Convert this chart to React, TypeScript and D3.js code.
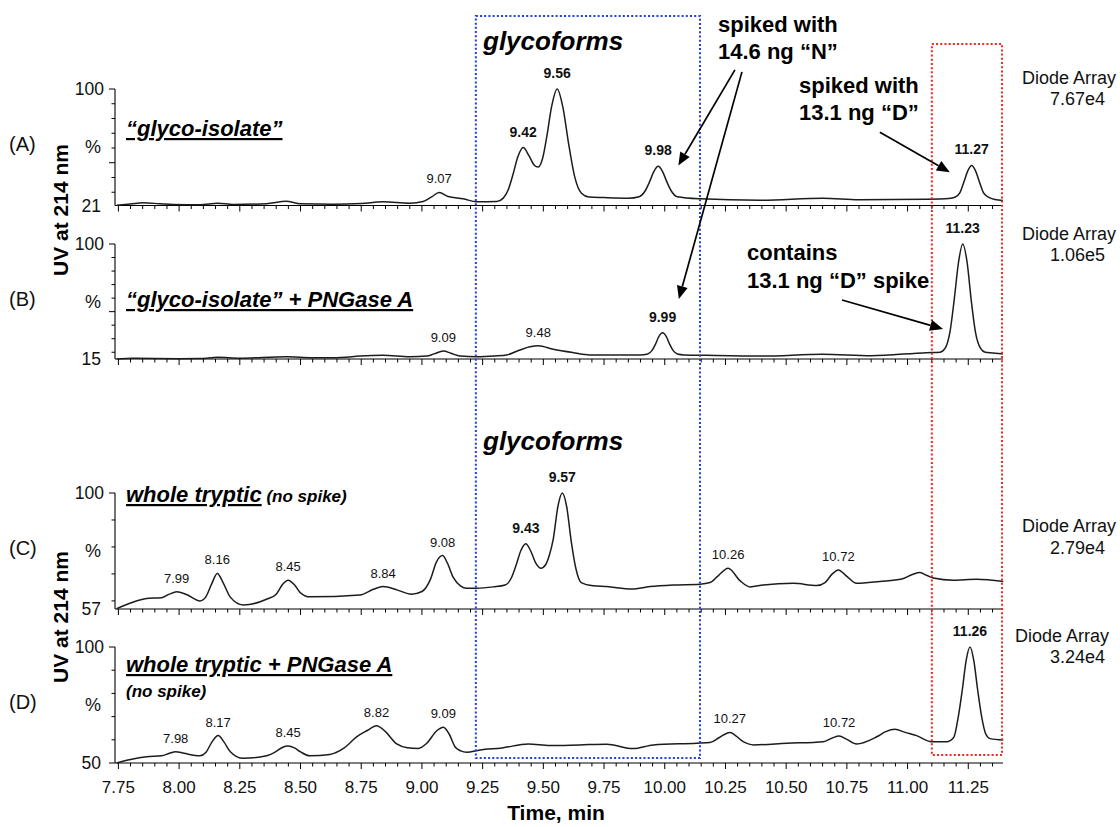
import React from 'react';
import * as d3 from 'd3';

type Pt = [number, number];

// ---------- chromatogram traces: [time (min), relative intensity %] ----------
const traceA: Pt[] = [
  [7.743, 21.2], [7.80, 22.0], [7.852, 22.8], [7.92, 22.2], [7.975, 21.7], [8.086, 21.5], [8.16, 22.6],
  [8.222, 21.7], [8.36, 22.2], [8.44, 23.9], [8.50, 22.2], [8.634, 21.9], [8.75, 22.3], [8.84, 23.5],
  [8.95, 22.6], [9.005, 23.7], [9.04, 26.8], [9.071, 29.9], [9.108, 27.1], [9.17, 25.6], [9.225, 23.5],
  [9.308, 23.7], [9.335, 26.0], [9.355, 31.5], [9.375, 42.0], [9.395, 54.0], [9.417, 60.3], [9.440, 55.0],
  [9.462, 48.5], [9.479, 47.1], [9.497, 53.0], [9.514, 67.5], [9.534, 88.0], [9.557, 100], [9.580, 88.0],
  [9.605, 62.0], [9.629, 40.6], [9.657, 29.3], [9.687, 26.8], [9.75, 26.4], [9.85, 26.0], [9.895, 27.0],
  [9.917, 30.3], [9.936, 36.5], [9.955, 44.0], [9.973, 47.6], [9.991, 44.0], [10.01, 36.5], [10.029, 30.3],
  [10.051, 27.0], [10.145, 25.6], [10.392, 24.6], [10.652, 26.0], [10.80, 24.9], [11.079, 25.3],
  [11.17, 25.8], [11.195, 26.6], [11.215, 29.5], [11.232, 37.0], [11.248, 44.5], [11.264, 48.2],
  [11.280, 44.5], [11.296, 37.0], [11.313, 29.5], [11.333, 26.6], [11.36, 25.0], [11.393, 24.4],
];

const traceB: Pt[] = [
  [7.743, 15.0], [7.81, 15.5], [8.0, 15.2], [8.086, 15.3], [8.16, 16.3], [8.25, 15.6], [8.44, 16.7],
  [8.55, 16.0], [8.634, 16.0], [8.77, 17.4], [8.84, 17.7], [8.95, 16.7], [9.02, 17.2], [9.05, 18.8],
  [9.088, 20.9], [9.12, 19.2], [9.157, 17.2], [9.225, 16.6], [9.30, 17.2], [9.349, 18.0], [9.404, 21.7],
  [9.445, 24.0], [9.479, 24.8], [9.541, 22.2], [9.623, 19.7], [9.692, 18.0], [9.898, 18.0], [9.930, 18.7],
  [9.947, 21.2], [9.962, 26.0], [9.976, 31.7], [9.991, 34.4], [10.006, 31.7], [10.02, 26.0], [10.035, 21.2],
  [10.052, 18.7], [10.08, 18.0], [10.173, 17.7], [10.40, 17.2], [10.65, 18.5], [10.85, 17.4], [11.079, 19.7],
  [11.134, 20.0], [11.155, 23.0], [11.175, 35.4], [11.192, 58.7], [11.210, 86.7], [11.227, 100],
  [11.245, 86.7], [11.262, 58.7], [11.279, 35.4], [11.300, 23.0], [11.32, 20.0], [11.35, 19.5], [11.393, 18.7],
];

const traceC: Pt[] = [
  [7.743, 57.1], [7.80, 59.2], [7.866, 60.9], [7.928, 61.2], [7.96, 62.5], [7.99, 63.4], [8.03, 62.4],
  [8.086, 60.0], [8.11, 61.5], [8.135, 66.5], [8.157, 70.2], [8.18, 67.0], [8.21, 61.5], [8.264, 58.5],
  [8.36, 60.6], [8.40, 62.5], [8.425, 66.0], [8.449, 67.7], [8.475, 66.0], [8.50, 63.0], [8.539, 61.5],
  [8.745, 62.2], [8.80, 64.3], [8.84, 65.3], [8.90, 64.0], [8.957, 62.5], [9.00, 63.5], [9.035, 68.0],
  [9.06, 74.5], [9.085, 76.8], [9.105, 74.0], [9.129, 68.7], [9.16, 65.5], [9.184, 64.7], [9.225, 64.7],
  [9.294, 65.2], [9.343, 65.9], [9.367, 68.3], [9.387, 73.0], [9.408, 78.8], [9.428, 81.2], [9.448, 78.5],
  [9.469, 74.0], [9.49, 72.1], [9.51, 73.5], [9.525, 77.0], [9.541, 83.0], [9.56, 95.0], [9.578, 100],
  [9.596, 95.0], [9.615, 82.0], [9.634, 72.0], [9.656, 66.8], [9.706, 65.6], [9.761, 65.3], [9.864, 64.4],
  [9.939, 65.3], [10.035, 65.9], [10.145, 66.2], [10.186, 66.8], [10.22, 69.3], [10.261, 72.1],
  [10.31, 67.5], [10.351, 65.2], [10.406, 65.9], [10.529, 66.5], [10.626, 65.7], [10.66, 66.8],
  [10.69, 70.0], [10.715, 71.5], [10.745, 69.5], [10.79, 66.5], [10.886, 67.2], [10.976, 68.1],
  [11.02, 69.8], [11.051, 70.5], [11.08, 69.4], [11.106, 68.5], [11.188, 67.7], [11.284, 68.0], [11.394, 67.2],
];

const traceD: Pt[] = [
  [7.743, 50.0], [7.80, 51.5], [7.866, 52.7], [7.928, 53.1], [7.96, 54.2], [7.986, 54.9], [8.02, 54.2],
  [8.086, 53.1], [8.11, 54.5], [8.135, 59.0], [8.161, 61.8], [8.185, 59.0], [8.21, 55.0], [8.264, 52.0],
  [8.36, 53.1], [8.40, 55.0], [8.425, 56.7], [8.449, 57.3], [8.475, 56.5], [8.50, 54.8], [8.539, 53.1],
  [8.621, 53.7], [8.68, 56.5], [8.731, 61.3], [8.775, 64.0], [8.813, 66.1], [8.85, 63.5], [8.896, 58.2],
  [8.94, 56.6], [8.985, 56.3], [9.02, 58.5], [9.06, 63.8], [9.088, 65.4], [9.112, 62.5], [9.136, 57.0],
  [9.16, 55.2], [9.184, 54.6], [9.239, 55.6], [9.33, 56.5], [9.438, 58.2], [9.527, 57.5], [9.65, 57.8],
  [9.761, 58.1], [9.87, 56.2], [9.953, 57.8], [10.131, 58.5], [10.186, 58.8], [10.225, 61.0],
  [10.268, 63.2], [10.323, 59.2], [10.365, 57.8], [10.502, 58.5], [10.653, 59.2], [10.69, 60.8],
  [10.718, 61.6], [10.75, 60.2], [10.79, 58.2], [10.873, 61.3], [10.91, 63.5], [10.948, 64.5],
  [10.99, 63.2], [11.037, 61.8], [11.099, 59.2], [11.161, 59.2], [11.19, 61.0], [11.209, 70.0],
  [11.226, 82.0], [11.241, 94.0], [11.257, 100], [11.273, 94.0], [11.288, 82.0], [11.305, 70.0],
  [11.322, 62.5], [11.34, 60.5], [11.394, 59.9],
];

// ---------- peak labels: [time, intensity, text, bold] ----------
type PeakLabel = [number, number, string, boolean];
const peaksA: PeakLabel[] = [
  [9.071, 29.9, '9.07', false], [9.417, 60.3, '9.42', true], [9.557, 100, '9.56', true],
  [9.973, 47.6, '9.98', true], [11.264, 48.2, '11.27', true],
];
const peaksB: PeakLabel[] = [
  [9.088, 20.9, '9.09', false], [9.479, 24.8, '9.48', false], [9.991, 34.4, '9.99', true],
  [11.227, 100, '11.23', true],
];
const peaksC: PeakLabel[] = [
  [7.99, 63.4, '7.99', false], [8.157, 70.2, '8.16', false], [8.449, 67.7, '8.45', false],
  [8.84, 65.3, '8.84', false], [9.085, 76.8, '9.08', false], [9.428, 81.2, '9.43', true],
  [9.578, 100, '9.57', true], [10.261, 72.1, '10.26', false], [10.715, 71.5, '10.72', false],
];
const peaksD: PeakLabel[] = [
  [7.986, 54.9, '7.98', false], [8.161, 61.8, '8.17', false], [8.449, 57.3, '8.45', false],
  [8.813, 66.1, '8.82', false], [9.088, 65.4, '9.09', false], [10.268, 63.2, '10.27', false],
  [10.718, 61.6, '10.72', false], [11.257, 100, '11.26', true],
];

// ---------- panel texts ----------
const panelLetters = ['(A)', '(B)', '(C)', '(D)'];
const yAxisMins = [21, 15, 57, 50];
const diodeLabel = 'Diode Array';
const diodeValues = ['7.67e4', '1.06e5', '2.79e4', '3.24e4'];
const xTickLabels = ['7.75', '8.00', '8.25', '8.50', '8.75', '9.00', '9.25', '9.50', '9.75', '10.00',
  '10.25', '10.50', '10.75', '11.00', '11.25'];
const glycoBox = [9.222, 10.145];
const spikeBox = [11.10, 11.389];
// arrows: [tailPanel, tailTime, tailValue, headPanel, headTime, headValue]
const arrows: [number, number, number, number, number, number][] = [
  [0, 10.289, 113.0, 0, 10.056, 48.2],
  [0, 10.318, 111.6, 1, 10.058, 59.3],
  [0, 10.886, 70.7, 0, 11.174, 43.5],
  [1, 10.73, 58.6, 1, 11.146, 37.2],
];

// ---------- layout ----------
const W = 1120;
const H = 827;
const FONT = "Arial, 'Liberation Sans', Helvetica, sans-serif";
const PANELS = [
  { top: 89, bottom: 205.5 },
  { top: 244, bottom: 359 },
  { top: 493, bottom: 609 },
  { top: 647, bottom: 763 },
];
const AXIS_X = 115;
const TRACE = '#1c1c1c';

const x = d3.scaleLinear().domain([7.736, 11.393]).range([AXIS_X, 1003]);
const yScales = PANELS.map((p, i) => d3.scaleLinear().domain([yAxisMins[i], 100]).range([p.bottom, p.top]));
const traces = [traceA, traceB, traceC, traceD];
const peaks = [peaksA, peaksB, peaksC, peaksD];

const minorTicks = d3.range(0, 73).map((i) => 7.75 + i * 0.05);

function Arrow({ x1, y1, x2, y2 }: { x1: number; y1: number; x2: number; y2: number }) {
  const ang = Math.atan2(y2 - y1, x2 - x1);
  const L = 13;
  const hw = 5.5;
  const bx = x2 - L * Math.cos(ang);
  const by = y2 - L * Math.sin(ang);
  const px = -Math.sin(ang) * hw;
  const py = Math.cos(ang) * hw;
  return (
    <g>
      <line x1={x1} y1={y1} x2={bx} y2={by} stroke="#000" strokeWidth={1.7} />
      <polygon points={`${x2},${y2} ${bx + px},${by + py} ${bx - px},${by - py}`} fill="#000" />
    </g>
  );
}

export default function App() {
  const line = (i: number) =>
    d3
      .line<Pt>()
      .x((d) => x(d[0]))
      .y((d) => yScales[i](d[1]))
      .curve(d3.curveMonotoneX)(traces[i]) as string;

  return (
    <svg
      width={W}
      height={H}
      viewBox={`0 0 ${W} ${H}`}
      style={{ position: 'absolute', left: 0, top: 0, background: '#fff', fontFamily: FONT }}
    >
      <rect x={0} y={0} width={W} height={H} fill="#fff" />

      {PANELS.map((p, i) => {
        const y = yScales[i];
        const yTicks = d3.range(Math.ceil(yAxisMins[i] / 10) * 10, 101, 10);
        const mid = (p.top + p.bottom) / 2;
        return (
          <g key={i}>
            {/* y axis */}
            <line x1={AXIS_X} y1={p.top} x2={AXIS_X} y2={p.bottom} stroke="#000" strokeWidth={1.1} />
            {yTicks.map((v) => (
              <line key={v} x1={AXIS_X - (v % 50 === 0 ? 6 : 3.5)} x2={AXIS_X} y1={y(v)} y2={y(v)} stroke="#000" strokeWidth={1} />
            ))}
            <text x={104} y={y(100) + 6} fontSize={17.5} textAnchor="end" fill="#111">100</text>
            <text x={101} y={p.bottom + 6} fontSize={17.5} textAnchor="end" fill="#111">{yAxisMins[i]}</text>
            <text x={93} y={mid + 6} fontSize={18} textAnchor="middle" fill="#111">%</text>
            <text x={9} y={mid + 4} fontSize={20} fill="#111">{panelLetters[i]}</text>

            {/* x axis */}
            <line x1={AXIS_X} y1={p.bottom} x2={1003} y2={p.bottom} stroke="#000" strokeWidth={1.2} />
            {minorTicks.map((t, k) => (
              <line key={k} x1={x(t)} x2={x(t)} y1={p.bottom} y2={p.bottom + (k % 5 === 0 ? 6 : 3.5)} stroke="#000" strokeWidth={1} />
            ))}

            {/* trace */}
            <path d={line(i)} fill="none" stroke={TRACE} strokeWidth={1.5} strokeLinejoin="round" />

            {/* peak labels */}
            {peaks[i].map(([t, v, s, b]) => (
              <text
                key={s}
                x={x(t)}
                y={y(v) - (b ? 11 : 9)}
                fontSize={b ? 14 : 13}
                fontWeight={b ? 'bold' : 'normal'}
                textAnchor="middle"
                fill="#111"
              >
                {s}
              </text>
            ))}

            {/* diode array */}
            <text x={i === 3 ? 1015 : 1022} y={[84, 240, 532, 642][i]} fontSize={18} fill="#111">{diodeLabel}</text>
            <text x={1050} y={[105, 261, 554, 663][i]} fontSize={18} fill="#111">{diodeValues[i]}</text>
          </g>
        );
      })}

      {/* x tick labels */}
      {xTickLabels.map((s) => (
        <text key={s} x={x(+s)} y={793} fontSize={17} textAnchor="middle" fill="#111">{s}</text>
      ))}
      <text x={556} y={820} fontSize={21} fontWeight="bold" textAnchor="middle" fill="#000">Time, min</text>

      {/* y axis titles */}
      <text transform="translate(68,210) rotate(-90)" fontSize={21} fontWeight="bold" textAnchor="middle" fill="#000">UV at 214 nm</text>
      <text transform="translate(68,617) rotate(-90)" fontSize={21} fontWeight="bold" textAnchor="middle" fill="#000">UV at 214 nm</text>

      {/* panel titles */}
      <g fontWeight="bold" fontStyle="italic" fill="#000">
        <text x={126} y={136} fontSize={22} style={{ textDecoration: 'underline' }}>“glyco-isolate”</text>
        <text x={126} y={307} fontSize={22} style={{ textDecoration: 'underline' }}>“glyco-isolate” + PNGase A</text>
        <text x={126} y={502} fontSize={22}>
          <tspan style={{ textDecoration: 'underline' }}>whole tryptic</tspan>
          <tspan fontSize={17}> (no spike)</tspan>
        </text>
        <text x={126} y={672} fontSize={22} style={{ textDecoration: 'underline' }}>whole tryptic + PNGase A</text>
        <text x={126} y={697} fontSize={17}>(no spike)</text>
        <text x={483} y={50} fontSize={26}>glycoforms</text>
        <text x={483} y={450} fontSize={26}>glycoforms</text>
      </g>

      {/* annotations */}
      <g fontWeight="bold" fontSize={22} fill="#000">
        <text x={718} y={32}>spiked with</text>
        <text x={718} y={59}>14.6 ng “N”</text>
        <text x={799} y={93}>spiked with</text>
        <text x={799} y={120}>13.1 ng “D”</text>
        <text x={747} y={260}>contains</text>
        <text x={747} y={288}>13.1 ng “D” spike</text>
      </g>

      {/* dotted boxes */}
      <rect
        x={x(glycoBox[0])}
        y={16}
        width={x(glycoBox[1]) - x(glycoBox[0])}
        height={758 - 16}
        fill="none"
        stroke="#1f3fe0"
        strokeWidth={2}
        strokeDasharray="2,2.2"
      />
      <rect
        x={x(spikeBox[0])}
        y={44}
        width={x(spikeBox[1]) - x(spikeBox[0])}
        height={755 - 44}
        fill="none"
        stroke="#ee2a1c"
        strokeWidth={2}
        strokeDasharray="2,2.2"
      />

      {arrows.map(([tp, tt, tv, hp, ht, hv], k) => (
        <Arrow key={k} x1={x(tt)} y1={yScales[tp](tv)} x2={x(ht)} y2={yScales[hp](hv)} />
      ))}
    </svg>
  );
}
